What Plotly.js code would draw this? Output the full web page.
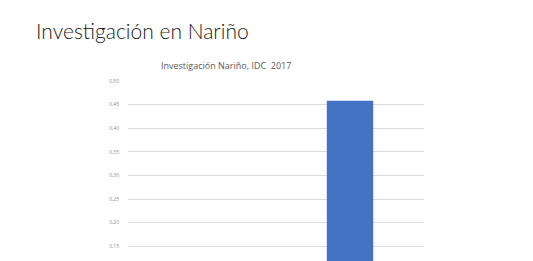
<!DOCTYPE html>
<html><head><meta charset="utf-8">
<script src="https://cdn.plot.ly/plotly-3.0.1.min.js"></script>
<style>html,body{margin:0;padding:0;width:533px;height:261px;overflow:hidden;background:#fff}</style>
</head><body>
<div id="chart" style="width:533px;height:357px"></div>
<script>
var categories = ["Promedio", "Nariño"];
var values = [0.10, 0.458];
var slideTitle = "Investigación en Nariño";
var chartTitle = "Investigación Nariño, IDC  2017";

var trace = {
  type: "bar", x: categories, y: values,
  marker: {color: "#4472C4"}, hoverinfo: "skip"
};
var layout = {
  width: 533, height: 357,
  margin: {l: 128, r: 109, t: 81, b: 40},
  paper_bgcolor: "#fff", plot_bgcolor: "#fff",
  separators: ",.",
  bargap: 0.6865,
  showlegend: false,
  title: {text: slideTitle, xref: "container", yref: "container",
          x: 36/533, xanchor: "left", y: 1 - 32/357, yanchor: "middle",
          font: {family: "Lato", size: 21, color: "#1a1a1a", weight: 300}},
  xaxis: {showgrid: false, zeroline: false, showline: true, linecolor: "#d9d9d9",
          showticklabels: false},
  yaxis: {range: [0, 0.5], dtick: 0.05, tickformat: ".2f",
          gridcolor: "#d9d9d9", gridwidth: 1, zeroline: false, showline: false,
          ticks: "outside", ticklen: 7, tickcolor: "rgba(0,0,0,0)",
          tickfont: {family: "Open Sans", size: 5, color: "#8c8c8c"}},
  annotations: [{text: chartTitle, xref: "paper", yref: "paper",
                 x: (226-128)/296, y: 1 + (81-66)/236, xanchor: "center", yanchor: "middle",
                 showarrow: false,
                 font: {family: "Open Sans", size: 9, color: "#595959"}}]
};
Plotly.newPlot("chart", [trace], layout, {displayModeBar: false, staticPlot: true});
</script>
</body></html>
